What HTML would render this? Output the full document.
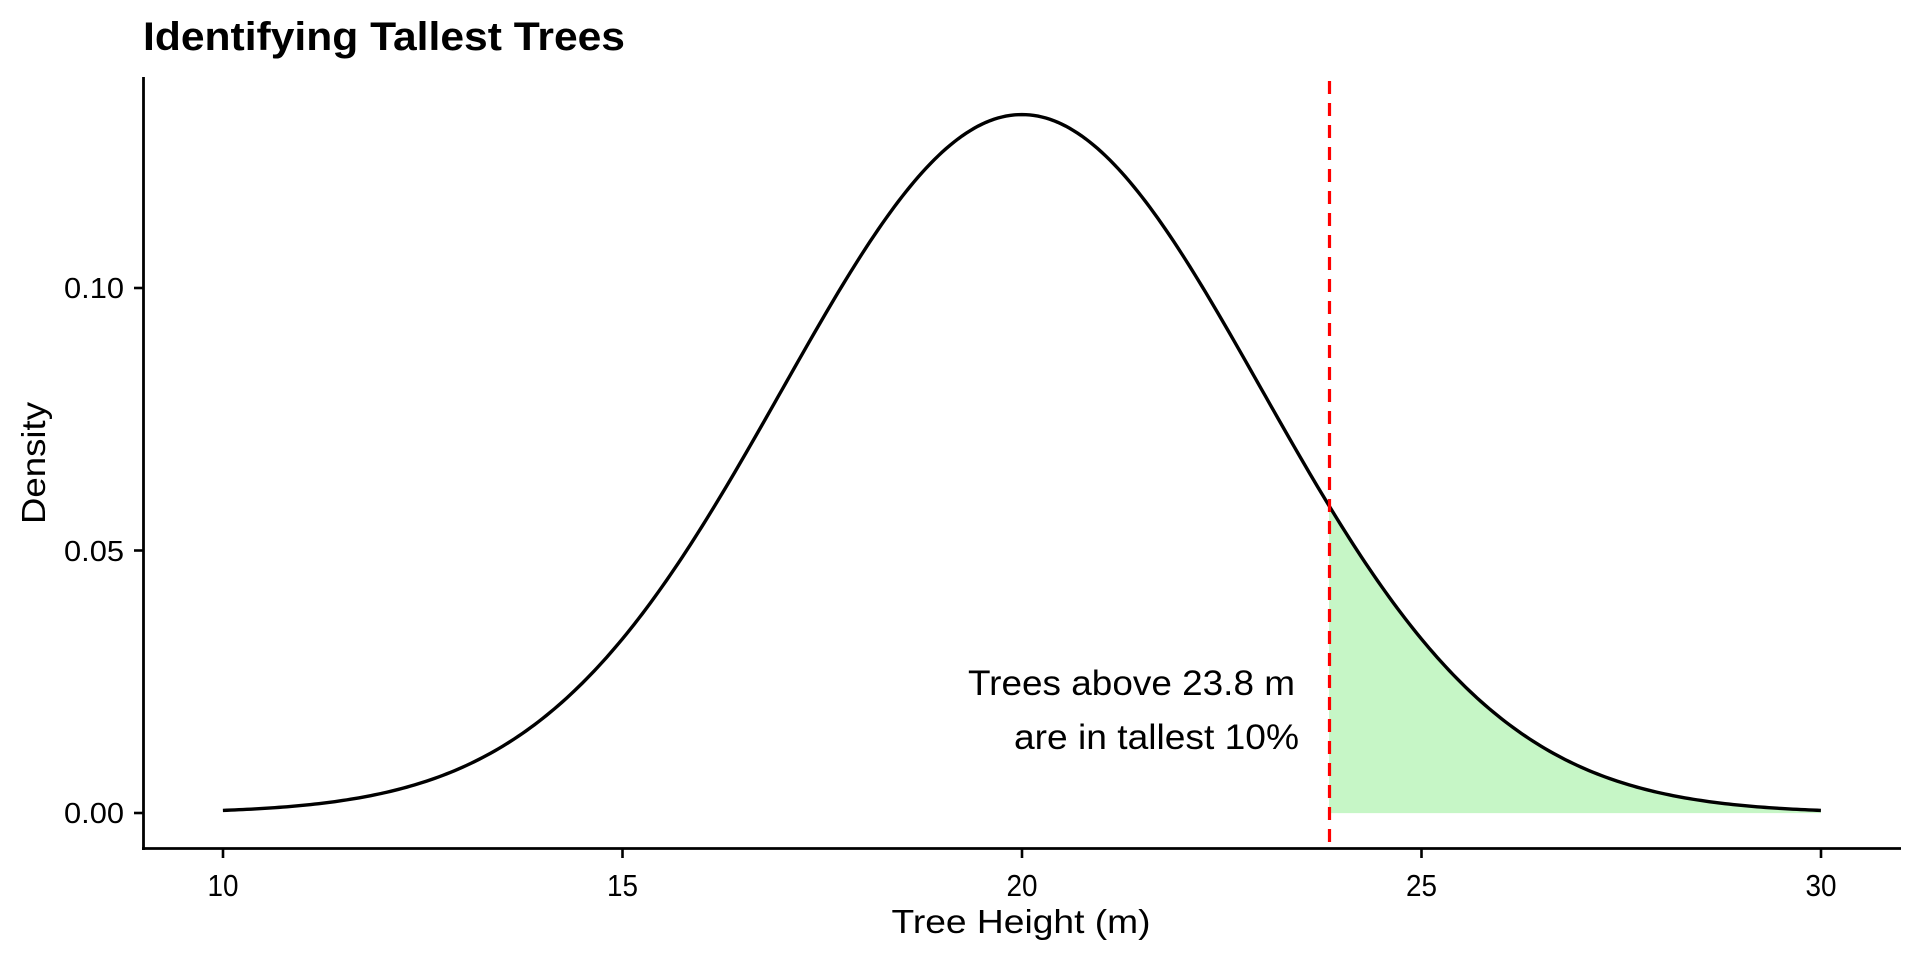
<!DOCTYPE html>
<html><head><meta charset="utf-8"><style>
html,body{margin:0;padding:0;background:#fff;}
svg{display:block;font-family:"Liberation Sans",Arial,sans-serif;}
</style></head><body>
<svg id="s" width="1920" height="960" viewBox="0 0 1920 960" xmlns="http://www.w3.org/2000/svg">
<rect width="1920" height="960" fill="#fff"/>
<text x="143" y="50" font-size="40" font-weight="bold" fill="#000" textLength="482" lengthAdjust="spacingAndGlyphs">Identifying Tallest Trees</text>
<path id="fill" fill="#c6f6c6" stroke="none"/>
<path id="curve" fill="none" stroke="#000" stroke-width="3.4"/>
<line x1="1329.5" y1="81" x2="1329.5" y2="848" stroke="#ff0000" stroke-width="3.2" stroke-dasharray="13,9"/>
<line x1="143.5" y1="77" x2="143.5" y2="850" stroke="#000" stroke-width="2.8"/>
<line x1="142" y1="848.5" x2="1901" y2="848.5" stroke="#000" stroke-width="2.8"/>
<g stroke="#000" stroke-width="2.6">
<line x1="134" y1="813" x2="143" y2="813"/>
<line x1="134" y1="550.5" x2="143" y2="550.5"/>
<line x1="134" y1="288" x2="143" y2="288"/>
<line x1="223" y1="849" x2="223" y2="858"/>
<line x1="622.5" y1="849" x2="622.5" y2="858"/>
<line x1="1022" y1="849" x2="1022" y2="858"/>
<line x1="1421.5" y1="849" x2="1421.5" y2="858"/>
<line x1="1821" y1="849" x2="1821" y2="858"/>
</g>
<g font-size="29" fill="#000" text-anchor="end">
<text x="124" y="823" textLength="60" lengthAdjust="spacingAndGlyphs">0.00</text>
<text x="124" y="561" textLength="60" lengthAdjust="spacingAndGlyphs">0.05</text>
<text x="124" y="298" textLength="60" lengthAdjust="spacingAndGlyphs">0.10</text>
</g>
<g font-size="31" fill="#000" text-anchor="middle">
<text x="223" y="896" textLength="31" lengthAdjust="spacingAndGlyphs">10</text>
<text x="622.5" y="896" textLength="31" lengthAdjust="spacingAndGlyphs">15</text>
<text x="1022" y="896" textLength="31" lengthAdjust="spacingAndGlyphs">20</text>
<text x="1421.5" y="896" textLength="31" lengthAdjust="spacingAndGlyphs">25</text>
<text x="1821" y="896" textLength="31" lengthAdjust="spacingAndGlyphs">30</text>
</g>
<text x="1021" y="933" font-size="33" text-anchor="middle" fill="#000" textLength="259" lengthAdjust="spacingAndGlyphs">Tree Height (m)</text>
<text transform="translate(45,463) rotate(-90)" font-size="33" text-anchor="middle" fill="#000" textLength="122" lengthAdjust="spacingAndGlyphs">Density</text>
<g font-size="35" fill="#000" text-anchor="end">
<text x="1295" y="695" textLength="327" lengthAdjust="spacingAndGlyphs">Trees above 23.8 m</text>
<text x="1299" y="749" textLength="285" lengthAdjust="spacingAndGlyphs">are in tallest 10%</text>
</g>
</svg>
<script>
function X(v){return 222.9+(v-10)*79.9;}
function Y(d){return 813.1-d*5253;}
function f(x){return Math.exp(-0.5*Math.pow((x-20)/3,2))/(3*Math.sqrt(2*Math.PI));}
var p="";for(var i=0;i<=400;i++){var x=10+i*20/400;p+=(i?"L":"M")+X(x).toFixed(2)+","+Y(f(x)).toFixed(2);}
document.getElementById("curve").setAttribute("d",p);
var q=20+1.28155*3;var g="M"+X(q).toFixed(2)+","+Y(0).toFixed(2);
for(var i=0;i<=200;i++){var x=q+i*(30-q)/200;g+="L"+X(x).toFixed(2)+","+Y(f(x)).toFixed(2);}
g+="L"+X(30).toFixed(2)+","+Y(0).toFixed(2)+"Z";
document.getElementById("fill").setAttribute("d",g);
</script>
</body></html>
